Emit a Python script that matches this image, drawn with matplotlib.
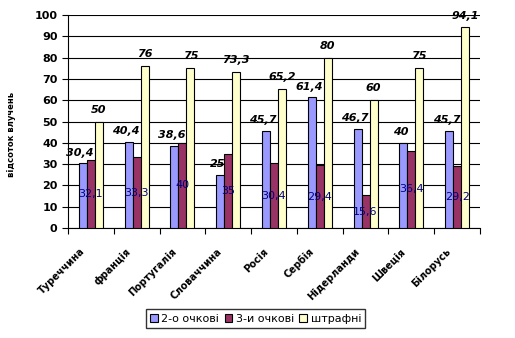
import numpy as np
import matplotlib
matplotlib.use("Agg")
import matplotlib.pyplot as plt

countries = ["Туреччина", "франція", "Португалія", "Словаччина", "Росія",
             "Сербія", "Нідерланди", "Швеція", "Білорусь"]
two_pt = [30.4, 40.4, 38.6, 25, 45.7, 61.4, 46.7, 40, 45.7]
three_pt = [32.1, 33.3, 40, 35, 30.4, 29.4, 15.6, 36.4, 29.2]
free = [50, 76, 75, 73.3, 65.2, 80, 60, 75, 94.1]
series_names = ["2-о очкові", "3-и очкові", "штрафні"]


def fmt(v):
    return f"{v:g}".replace(".", ",")


fig = plt.figure(figsize=(5.15, 3.38), dpi=100)
ax = fig.add_axes([0.132, 0.325, 0.8, 0.631])

x = np.arange(len(countries))
w = 0.175
colors = ["#9999FF", "#993366", "#FFFFCC"]
bars = []
for i, (vals, c) in enumerate(zip([two_pt, three_pt, free], colors)):
    b = ax.bar(x + (i - 1) * w, vals, w, color=c, edgecolor="black", lw=0.8,
               label=series_names[i], zorder=3)
    bars.append(b)

for xi, v in zip(x, two_pt):
    ax.annotate(fmt(v), (xi - w, v), xytext=(-2, 4), textcoords="offset points",
                ha="center", va="bottom", fontsize=8, weight="bold", style="italic")
for xi, v in zip(x, free):
    ax.annotate(fmt(v), (xi + w, v), xytext=(0, 5), textcoords="offset points",
                ha="center", va="bottom", fontsize=8, weight="bold", style="italic")
for xi, v in zip(x, three_pt):
    ax.text(xi, v / 2, fmt(v), ha="center", va="center", fontsize=8,
            color="#000080", zorder=4)

ax.set_xlim(-0.5, len(countries) - 0.5)
ax.set_ylim(0, 100)
ax.set_yticks(range(0, 101, 10))
ax.yaxis.grid(True, color="black", lw=0.8, zorder=0)
ax.set_xticks(np.arange(len(countries) + 1) - 0.5)
ax.set_xticklabels([])
# category names sit between the tick marks, rotated like Excel does it
for xi, name in zip(x, countries):
    ax.annotate(name, (xi, 0), xycoords=("data", "axes fraction"),
                xytext=(-8, -13), textcoords="offset points", rotation=45,
                ha="right", va="top", rotation_mode="anchor", fontsize=7,
                weight="bold")
ax.tick_params(axis="x", length=4, direction="out")
ax.tick_params(axis="y", length=4, direction="out", labelsize=8)
for lab in ax.get_yticklabels():
    lab.set_fontweight("bold")
for s in ["top", "right"]:
    ax.spines[s].set_visible(False)
ax.set_ylabel("відсоток влучень", fontsize=6, weight="bold")
ax.yaxis.set_label_coords(-0.125, 0.44)

fig.legend(handles=bars, labels=series_names, loc="center",
           bbox_to_anchor=(255.5 / 515, 1 - 318.5 / 338), ncol=3, fontsize=8,
           frameon=True, fancybox=False, edgecolor="black", handlelength=0.7,
           handleheight=0.7, handletextpad=0.3, columnspacing=0.5,
           borderpad=0.4)

fig.savefig("out.png", dpi=100)
